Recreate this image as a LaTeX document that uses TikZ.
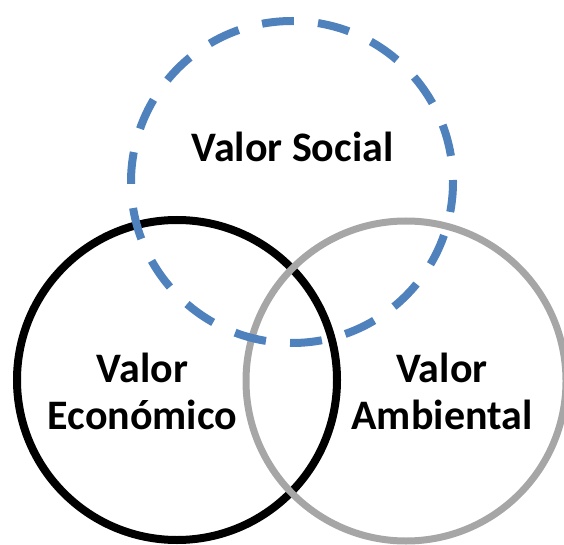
\documentclass[tikz,border=0pt]{standalone}
\usepackage{fontspec}
\setmainfont{Carlito}
\definecolor{socialblue}{HTML}{4F81BD}
\definecolor{envgray}{HTML}{A6A6A6}
\begin{document}
\begin{tikzpicture}[x=1pt,y=1pt,
  ring/.style={line width=8pt},
  label/.style={inner sep=0pt, anchor=base, font=\bfseries\fontsize{42}{47}\selectfont}]
\useasboundingbox (0,0) rectangle (564,544);
% the three value circles
\coordinate (eco) at (177,164);
\coordinate (env) at (406,163);
\coordinate (soc) at (292,362);
\draw[ring, black] (eco) circle[radius=160];
\draw[ring, envgray, line width=7pt] (env) circle[radius=160];
\draw[ring, socialblue, dash pattern=on 32pt off 24.2pt, dash phase=30pt] (soc) circle[radius=161];
% labels
\node[label] (lsoc) at (292.5,382) {Valor Social};
\node[label] (leco) at (142.5,115) {\tabcolsep=0pt\begin{tabular}[b]{c}Valor\\Económico\end{tabular}};
\node[label] (lenv) at (442,115) {\tabcolsep=0pt\begin{tabular}[b]{c}Valor\\Ambiental\end{tabular}};
\end{tikzpicture}
\end{document}
